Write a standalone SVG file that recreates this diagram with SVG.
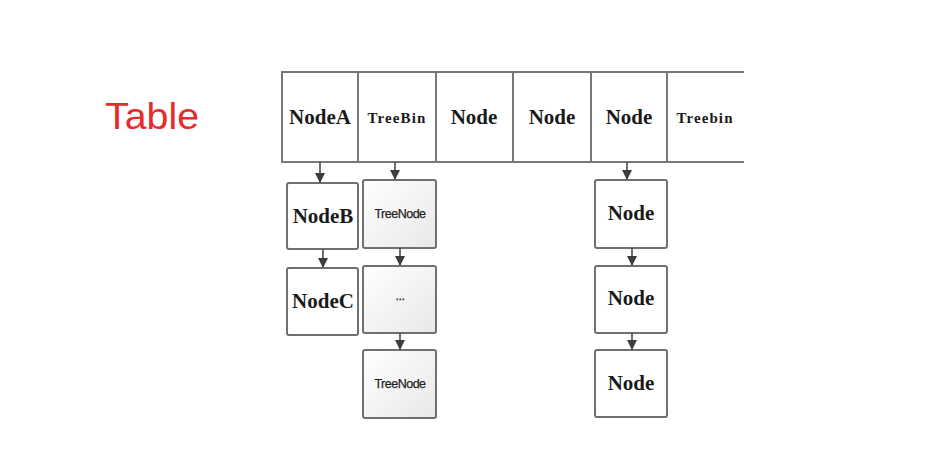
<svg xmlns="http://www.w3.org/2000/svg" width="947" height="450" viewBox="0 0 947 450">
<style>
.box{fill:#fff;stroke:#707070;stroke-width:2}
.tbox{fill:url(#tg);stroke:#707070;stroke-width:2}
.cell{fill:#fff;stroke:#777;stroke-width:2}
.big{font-family:"Liberation Serif",serif;font-weight:bold;font-size:21px;fill:#1a1a1a;text-anchor:middle}
.mid{font-family:"Liberation Serif",serif;font-weight:bold;font-size:15px;letter-spacing:1.1px;fill:#1a1a1a;text-anchor:middle}
.sm{font-family:"Liberation Sans",sans-serif;font-size:12.5px;fill:#1f1f1f;text-anchor:middle;letter-spacing:-0.5px;stroke:#1f1f1f;stroke-width:0.25}
.conn{stroke:#4a4a4a;stroke-width:1.6;fill:none;marker-end:url(#ah)}
</style>
<defs>
<linearGradient id="tg" x1="0" y1="0" x2="1" y2="1">
<stop offset="0" stop-color="#ffffff"/>
<stop offset="1" stop-color="#e8e8e8"/>
</linearGradient>
<marker id="ah" viewBox="0 0 10 10" refX="9" refY="5" markerWidth="10" markerHeight="10" markerUnits="userSpaceOnUse" orient="auto">
<path d="M0,0 L10,5 L0,10 z" fill="#3c3c3c"/>
</marker>
</defs>
<rect width="947" height="450" fill="#fff"/>
<text x="105" y="129" font-family="Liberation Sans, sans-serif" font-size="37" textLength="94" lengthAdjust="spacingAndGlyphs" fill="#e52b2b">Table</text>

<g id="table">
<g id="cellA"><rect class="cell" x="282" y="72" width="76" height="90"/><text class="big" x="320" y="124">NodeA</text></g>
<g id="cellB"><rect class="cell" x="358" y="72" width="78" height="90"/><text class="mid" x="397" y="123">TreeBin</text></g>
<g id="cellC"><rect class="cell" x="436" y="72" width="77" height="90"/><text class="big" x="474" y="124">Node</text></g>
<g id="cellD"><rect class="cell" x="513" y="72" width="78" height="90"/><text class="big" x="552" y="124">Node</text></g>
<g id="cellE"><rect class="cell" x="591" y="72" width="76" height="90"/><text class="big" x="629" y="124">Node</text></g>
<g id="cellF"><path d="M667,72 H744 M667,72 V162 H744" fill="none" stroke="#777" stroke-width="2"/><text class="mid" x="705" y="123">Treebin</text></g>
</g>

<g id="nodeB"><rect class="box" x="287" y="183" width="71" height="66" rx="2"/><text class="big" x="323" y="223">NodeB</text></g>
<g id="nodeC"><rect class="box" x="287" y="268" width="71" height="67" rx="2"/><text class="big" x="323" y="308">NodeC</text></g>

<g id="treeNode1"><rect class="tbox" x="363" y="180" width="73" height="68" rx="2"/><text class="sm" x="400" y="218">TreeNode</text></g>
<g id="treeDots"><rect class="tbox" x="363" y="266" width="73" height="67" rx="2"/><text class="sm" x="400" y="300">...</text></g>
<g id="treeNode2"><rect class="tbox" x="363" y="350" width="73" height="68" rx="2"/><text class="sm" x="400" y="388">TreeNode</text></g>

<g id="node1"><rect class="box" x="595" y="180" width="72" height="68" rx="2"/><text class="big" x="631" y="220">Node</text></g>
<g id="node2"><rect class="box" x="595" y="266" width="72" height="67" rx="2"/><text class="big" x="631" y="305">Node</text></g>
<g id="node3"><rect class="box" x="595" y="350" width="72" height="67" rx="2"/><text class="big" x="631" y="390">Node</text></g>

<g id="connectors">
<line class="conn" x1="320" y1="162" x2="320" y2="182"/>
<line class="conn" x1="323" y1="249" x2="323" y2="267"/>
<line class="conn" x1="395" y1="162" x2="395" y2="179"/>
<line class="conn" x1="400" y1="248" x2="400" y2="265"/>
<line class="conn" x1="400" y1="333" x2="400" y2="349"/>
<line class="conn" x1="627" y1="162" x2="627" y2="179"/>
<line class="conn" x1="632" y1="248" x2="632" y2="265"/>
<line class="conn" x1="632" y1="333" x2="632" y2="349"/>
</g>
</svg>
